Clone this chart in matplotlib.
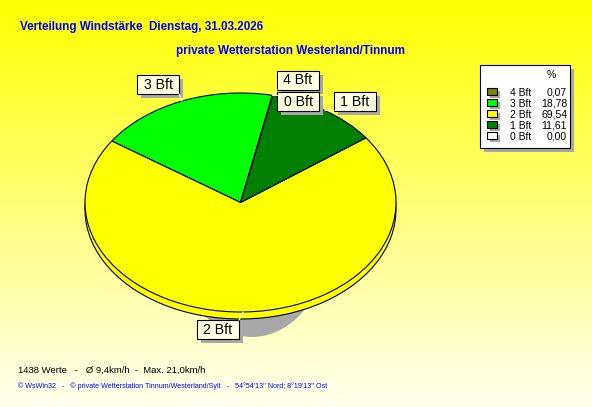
#!/usr/bin/env python3
"""Verteilung Windstärke - 3D-style pie (WsWin look), drawn in matplotlib."""

import matplotlib
matplotlib.use("Agg")
import matplotlib.pyplot as plt
import numpy as np
from matplotlib.patches import Ellipse, Rectangle

# --- data -----------------------------------------------------------------
classes = ["4 Bft", "3 Bft", "2 Bft", "1 Bft", "0 Bft"]
percent = [0.07, 18.78, 69.54, 11.61, 0.00]
colors = ["#808000", "#00ff00", "#ffff00", "#008000", "#ffffff"]
start_angle = 78.0

title = "Verteilung Windstärke  Dienstag, 31.03.2026"
subtitle = "private Wetterstation Westerland/Tinnum"
stats_line = "1438 Werte   -   Ø 9,4km/h  -  Max. 21,0km/h"
copyright_line = ("© WsWin32   -   © private Wetterstation Tinnum/Westerland/Sylt"
                  "   -   54°54'13'' Nord; 8°19'13'' Ost")

# --- layout (pixels, image coordinates: y grows downward) -----------------
W, H = 592, 407
CX, CY = 240.5, 202.5      # centre of the top ellipse
RX, RY = 155.5, 109.5      # semi axes of the top ellipse
DEPTH = 7                  # thickness of the pie side
LABEL_BOX = {              # centre of each label box
    "4 Bft": (298, 80),
    "0 Bft": (298, 101),
    "1 Bft": (355, 101),
    "3 Bft": (158, 84.5),
    "2 Bft": (218, 329.5),
}
BOX_W, BOX_H = 42, 19
SANS = ["Liberation Sans", "DejaVu Sans"]
BLUE = "#0000ff"
GREY = "#a8a8a8"

fig = plt.figure(figsize=(W / 100, H / 100), dpi=100)

# background gradient, yellow at the top, pale cream at the bottom
bg = fig.add_axes([0, 0, 1, 1], zorder=0)
t = np.linspace(0, 1, 256)[:, None]
grad = np.dstack([np.ones_like(t), np.ones_like(t), 0.94 * t])
bg.imshow(grad, aspect="auto", extent=[0, 1, 0, 1], origin="upper")
bg.axis("off")

# pie axes: unit circle maps onto the RX x RY ellipse
pa = fig.add_axes([0, 0, 1, 1], zorder=1)
pa.patch.set_alpha(0)
pa.add_patch(Ellipse(((252 - CX) / RX, (CY - 227) / RY), 2 * 80 / RX, 2 * 110 / RY,
                     facecolor=GREY, edgecolor="none"))
wedge_kw = dict(edgecolor="black", linewidth=0.8)
pa.pie(percent, colors=colors, startangle=start_angle, counterclock=True,
       center=(0, -DEPTH / RY), radius=1, wedgeprops=wedge_kw)
wedges, _ = pa.pie(percent, colors=colors, startangle=start_angle, counterclock=True,
                   center=(0, 0), radius=1, wedgeprops=wedge_kw)
pa.set_aspect("auto")
pa.set_xlim(-CX / RX, (W - CX) / RX)
pa.set_ylim((CY - H) / RY, CY / RY)
pa.axis("off")

# overlay in pixel coordinates
ov = fig.add_axes([0, 0, 1, 1], zorder=2)
ov.patch.set_alpha(0)
ov.set_xlim(0, W)
ov.set_ylim(H, 0)
ov.axis("off")

# leader lines from the wedge middle to the label box
for name, w in zip(classes, wedges):
    mid = np.deg2rad((w.theta1 + w.theta2) / 2)
    ex, ey = CX + RX * np.cos(mid), CY - RY * np.sin(mid)
    bx, by = LABEL_BOX[name]
    tx = np.clip(ex, bx - BOX_W / 2, bx + BOX_W / 2)
    ty = np.clip(ey, by - BOX_H / 2, by + BOX_H / 2)
    ov.plot([ex, tx], [ey, ty], color="white", lw=0.8)

for name in classes:
    bx, by = LABEL_BOX[name]
    x0, y0 = bx - BOX_W / 2, by - BOX_H / 2
    ov.add_patch(Rectangle((x0 + 4, y0 + 4), BOX_W, BOX_H, facecolor=GREY, edgecolor="none"))
    ov.add_patch(Rectangle((x0, y0), BOX_W, BOX_H, facecolor="#ffffe1",
                           edgecolor="black", linewidth=0.8))
    ov.text(bx, by + 0.5, name, ha="center", va="center", fontsize=10.2,
            family=SANS, color="black")

# legend box
lx0, ly0, lx1, ly1 = 480, 65, 570, 148
ov.add_patch(Rectangle((lx0 + 4, ly0 + 4), lx1 - lx0, ly1 - ly0, facecolor=GREY, edgecolor="none"))
ov.add_patch(Rectangle((lx0, ly0), lx1 - lx0, ly1 - ly0, facecolor="white",
                       edgecolor="black", linewidth=0.8))
ov.text(551, 77.5, "%", ha="center", va="baseline", fontsize=7.5, family=SANS)
for i, (name, val, col) in enumerate(zip(classes, percent, colors)):
    base = 95.7 + 11 * i
    ov.add_patch(Rectangle((489.5, base - 4.5), 10, 6.5, facecolor=GREY, edgecolor="none"))
    ov.add_patch(Rectangle((487, base - 7.5), 10, 6.5, facecolor=col,
                           edgecolor="black", linewidth=0.8))
    ov.text(510, base, name, ha="left", va="baseline", fontsize=7.5, family=SANS)
    ov.text(567, base, f"{val:.2f}".replace(".", ","), ha="right", va="baseline",
            fontsize=7.5, family=SANS)

# titles and footer
ov.text(20, 30, title, ha="left", va="baseline", fontsize=8.4, fontweight="bold",
        family=SANS, color=BLUE)
ov.text(176, 54, subtitle, ha="left", va="baseline", fontsize=8.5, fontweight="bold",
        family=SANS, color=BLUE)
ov.text(18, 373, stats_line, ha="left", va="baseline", fontsize=6.8, family=SANS,
        color="black")
ov.text(18, 388.5, copyright_line, ha="left", va="baseline", fontsize=5.1,
        family=SANS, color=BLUE)

fig.savefig("out.png", dpi=100)
